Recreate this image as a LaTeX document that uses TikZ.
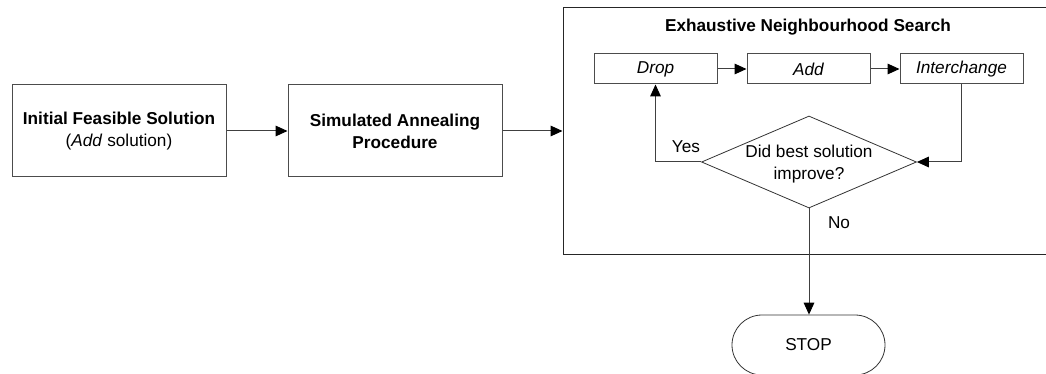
\documentclass[tikz,border=0pt]{standalone}
\usepackage{fontspec}
\setmainfont{Liberation Sans}
\usetikzlibrary{shapes.geometric,arrows.meta}
\begin{document}
\begin{tikzpicture}[x=0.75pt,y=-0.75pt,
  every node/.style={font=\fontsize{12.9pt}{16.5pt}\selectfont, align=center},
  box/.style={draw=black!70, line width=0.75pt, rectangle, inner sep=0pt, minimum width=160.5pt, minimum height=69pt},
  small/.style={draw=black!70, line width=0.75pt, rectangle, inner sep=0pt, minimum width=92.25pt, minimum height=22.5pt},
  dec/.style={draw=black!80, line width=0.6pt, diamond, inner sep=0pt, minimum width=161.25pt, minimum height=69pt},
  term/.style={draw=black!80, line width=0.6pt, rectangle, rounded corners=22.5pt, inner sep=0pt, minimum width=114.75pt, minimum height=45pt},
  lbl/.style={inner sep=0pt},
  conn/.style={draw=black!75, line width=0.75pt},
  arr/.style={conn, -{Triangle[length=9pt,width=8pt,color=black]}}]
\useasboundingbox (0,0) rectangle (1046,374);
\node[draw=black!85, line width=0.75pt, rectangle, inner sep=0pt, minimum width=372.75pt, minimum height=184.5pt] (ens) at (811.5,131) {};
\node[lbl] (title) at (808,27) {\bfseries Exhaustive Neighbourhood Search};
\node[box] (init) at (119,131) {\bfseries Initial Feasible Solution\\(\textit{Add} solution)};
\node[box] (sa) at (395,131) {\bfseries Simulated Annealing\\\bfseries Procedure};
\node[small] (drop) at (655.5,69) {\itshape Drop};
\node[small] (add) at (808.5,69) {\itshape Add};
\node[small] (inter) at (961.5,69) {\itshape Interchange};
\node[dec] (dia) at (809,162) {};
\node[lbl] (diatext) at (809,164) {Did best solution\\improve?};
\node[term] (stop) at (808.5,345) {STOP};
\node[lbl] (yes) at (686,147) {Yes};
\node[lbl] (no) at (839,223) {No};
\draw[arr] (init) -- (sa);
\draw[arr] (sa) -- (ens.west |- sa.east);
\draw[arr] (drop) -- (add);
\draw[arr] (add) -- (inter);
\draw[arr] (inter.south) |- (dia.east);
\draw[arr] (dia.west) -| (drop.south);
\draw[arr] (dia.south) -- (stop.north -| dia.south);
\end{tikzpicture}
\end{document}
